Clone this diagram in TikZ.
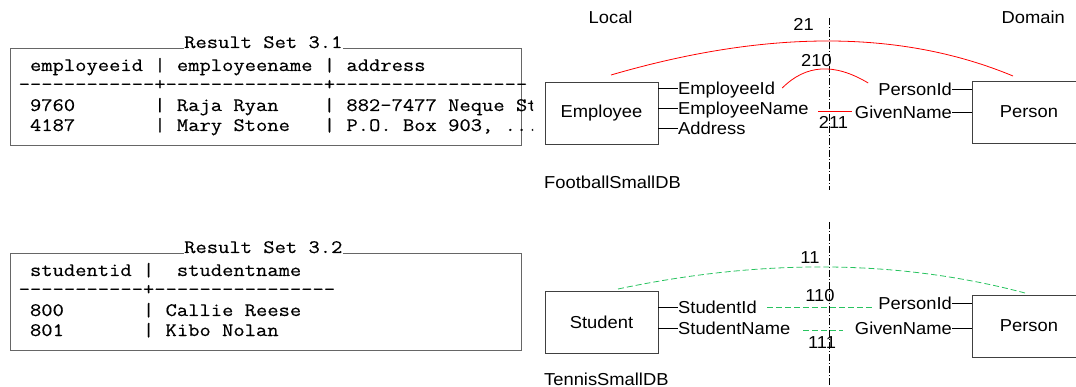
\documentclass[tikz,border=0pt]{standalone}
\usepackage{fontspec}
\setsansfont{Liberation Sans}[FakeStretch=1.06]
\setmonofont{Latin Modern Mono}[FakeStretch=1.155, FakeBold=0.4]
\usetikzlibrary{calc}

\definecolor{tngreen}{RGB}{40,195,95}

\tikzset{
    entity/.style={draw=black!75, line width=0.9pt, minimum width=113pt,
        minimum height=62pt, inner sep=0pt,
        font=\sffamily\fontsize{17.3}{20}\selectfont},
    attr/.style={inner sep=0pt, text height=12.4pt, text depth=0pt,
        font=\sffamily\fontsize{17.3}{20}\selectfont},
    stub/.style={line width=0.9pt},
    tabrow/.style={inner sep=0pt, anchor=base west,
        font=\ttfamily\fontsize{19}{22}\selectfont},
    tabframe/.style={draw=black!60, line width=0.9pt},
    fbmap/.style={red, line width=0.8pt},
    tnmap/.style={tngreen, line width=0.8pt, dash pattern=on 6pt off 3pt},
    divider/.style={line width=0.7pt, dash pattern=on 7pt off 2pt on 1pt off 2pt},
}

\begin{document}
\begin{tikzpicture}[x=1pt, y=-1pt]
    \clip (0,0) rectangle (1076,387);

    % result set 3.1
    \begin{scope}
        \node[tabrow] (rs1) at (184,48) {Result Set 3.1};
        \draw[tabframe] (rs1.base west) -- (10,48) -- (10,145)
            -- (521,145) -- (521,48) -- (rs1.base east);
        \clip (0,0) rectangle (533,387);
        \node[tabrow] (h1) at (18.5,71) {\ employeeid\ |\ employeename\ |\ address};
        \node[tabrow] (d1) at (18.5,90) {------------+--------------+-----------------};
        \node[tabrow] (r11) at (18.5,111) {\ 9760\ \ \ \ \ \ \ |\ Raja Ryan\ \ \ \ |\ 882-7477 Neque St};
        \node[tabrow] (r12) at (18.5,131) {\ 4187\ \ \ \ \ \ \ |\ Mary Stone\ \ \ |\ P.O. Box 903, ...};
    \end{scope}

    % result set 3.2
    \begin{scope}
        \node[tabrow] (rs2) at (184,253) {Result Set 3.2};
        \draw[tabframe] (rs2.base west) -- (10,253) -- (10,350)
            -- (521,350) -- (521,253) -- (rs2.base east);
        \node[tabrow] (h2) at (18.5,276) {\ studentid\ |\ \ studentname};
        \node[tabrow] (d2) at (18.5,295) {-----------+----------------};
        \node[tabrow] (r21) at (18.5,316) {\ 800\ \ \ \ \ \ \ |\ Callie Reese};
        \node[tabrow] (r22) at (18.5,336) {\ 801\ \ \ \ \ \ \ |\ Kibo Nolan};
    \end{scope}

    % local / domain divider
    \node[attr, anchor=west] (loc) at (588.5,17) {Local};
    \node[attr, anchor=west] (dom) at (1001.5,17) {Domain};
    \draw[divider] (829,18) -- (829,190);
    \draw[divider] (829,222) -- (829,387);

    % FootballSmallDB
    \node[entity] (emp) at (601.5,113) {Employee};
    \node[entity] (per1) at (1029,112) {Person};
    \node[attr, anchor=west] (eid) at (678,88) {EmployeeId};
    \node[attr, anchor=west] (ename) at (678,108) {EmployeeName};
    \node[attr, anchor=west] (eaddr) at (678,128) {Address};
    \node[attr, anchor=east] (pid1) at (952,89) {PersonId};
    \node[attr, anchor=east] (gname1) at (952,112) {GivenName};
    \foreach \a in {eid, ename, eaddr}
        \draw[stub] (emp.east |- \a.west) -- (\a.west);
    \foreach \a in {pid1, gname1}
        \draw[stub] (\a.east) -- (per1.west |- \a.east);
    \node[attr, anchor=west] (fbdb) at (544,182) {FootballSmallDB};

    \node[attr] (m21) at (803.5,24) {21};
    \node[attr] (m210) at (816.5,60) {210};
    \node[attr] (m211) at (833.5,122) {211};
    \coordinate (fbL) at (611,75);
    \coordinate (fbR) at (1013,76);
    \draw[fbmap] (fbL) .. controls (767.7,29.3) and (901.7,29.7) .. (fbR);
    \draw[fbmap] ($(eid.east) + (7,0)$)
        .. controls (806,64.3) and (834.3,62.7) .. ($(pid1.west) + (-10,-6)$);
    \draw[fbmap] (818,111) -- ($(gname1.west) + (-3,-1)$);

    % TennisSmallDB
    \node[entity] (stu) at (601.5,322) {Student};
    \node[entity] (per2) at (1029,326) {Person};
    \node[attr, anchor=west] (sid) at (678,307) {StudentId};
    \node[attr, anchor=west] (sname) at (678,328) {StudentName};
    \node[attr, anchor=east] (pid2) at (952,303) {PersonId};
    \node[attr, anchor=east] (gname2) at (952,328) {GivenName};
    \foreach \a in {sid, sname}
        \draw[stub] (stu.east |- \a.west) -- (\a.west);
    \foreach \a in {pid2, gname2}
        \draw[stub] (\a.east) -- (per2.west |- \a.east);
    \node[attr, anchor=west] (tndb) at (544,379) {TennisSmallDB};

    \node[attr] (m11) at (810,257) {11};
    \node[attr] (m110) at (820,295) {110};
    \node[attr] (m111) at (822,342) {111};
    \coordinate (tnL) at (618,289);
    \coordinate (tnR) at (1025,293);
    \draw[tnmap] (tnL) .. controls (763.7,258.3) and (899.3,259.7) .. (tnR);
    \draw[tnmap] ($(sid.east) + (10,0)$) -- (872,307);
    \draw[tnmap] (803,330) -- (843,330);
\end{tikzpicture}
\end{document}
